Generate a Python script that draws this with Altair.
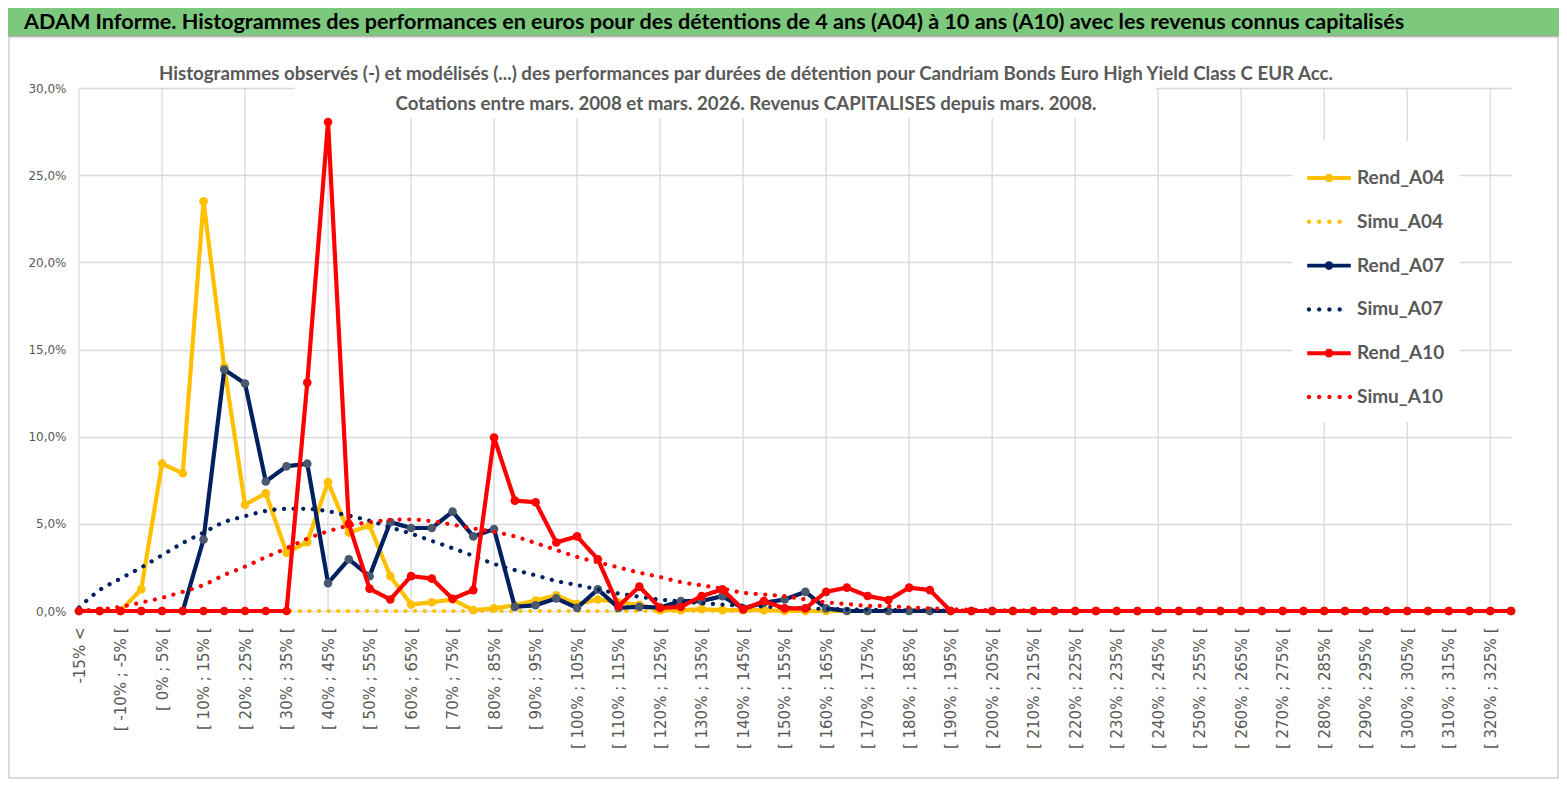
import altair as alt
import pandas as pd

categories = [
    "-15% <", "[ -15% ; -10% [", "[ -10% ; -5% [", "[ -5% ; 0% [", "[ 0% ; 5% [",
    "[ 5% ; 10% [", "[ 10% ; 15% [", "[ 15% ; 20% [", "[ 20% ; 25% [", "[ 25% ; 30% [",
    "[ 30% ; 35% [", "[ 35% ; 40% [", "[ 40% ; 45% [", "[ 45% ; 50% [", "[ 50% ; 55% [",
    "[ 55% ; 60% [", "[ 60% ; 65% [", "[ 65% ; 70% [", "[ 70% ; 75% [", "[ 75% ; 80% [",
    "[ 80% ; 85% [", "[ 85% ; 90% [", "[ 90% ; 95% [", "[ 95% ; 100% [", "[ 100% ; 105% [",
    "[ 105% ; 110% [", "[ 110% ; 115% [", "[ 115% ; 120% [", "[ 120% ; 125% [", "[ 125% ; 130% [",
    "[ 130% ; 135% [", "[ 135% ; 140% [", "[ 140% ; 145% [", "[ 145% ; 150% [", "[ 150% ; 155% [",
    "[ 155% ; 160% [", "[ 160% ; 165% [", "[ 165% ; 170% [", "[ 170% ; 175% [", "[ 175% ; 180% [",
    "[ 180% ; 185% [", "[ 185% ; 190% [", "[ 190% ; 195% [", "[ 195% ; 200% [", "[ 200% ; 205% [",
    "[ 205% ; 210% [", "[ 210% ; 215% [", "[ 215% ; 220% [", "[ 220% ; 225% [", "[ 225% ; 230% [",
    "[ 230% ; 235% [", "[ 235% ; 240% [", "[ 240% ; 245% [", "[ 245% ; 250% [", "[ 250% ; 255% [",
    "[ 255% ; 260% [", "[ 260% ; 265% [", "[ 265% ; 270% [", "[ 270% ; 275% [", "[ 275% ; 280% [",
    "[ 280% ; 285% [", "[ 285% ; 290% [", "[ 290% ; 295% [", "[ 295% ; 300% [", "[ 300% ; 305% [",
    "[ 305% ; 310% [", "[ 310% ; 315% [", "[ 315% ; 320% [", "[ 320% ; 325% [", "[ 325% ; 330% [",
]
grid_categories = categories[::4]

# values in percent
rend_a04 = [0, 0, 0, 1.25, 8.45, 7.9, 23.5, 14.0, 6.1, 6.75,
            3.35, 3.95, 7.4, 4.5, 4.9, 2.0, 0.37, 0.5, 0.66, 0.05,
            0.15, 0.33, 0.6, 0.9, 0.4, 0.66, 0.5, 0.35, 0.05, 0.05,
            0.1, 0.05, 0.05, 0.05, 0, 0, 0, 0, 0, 0,
            0, 0, 0, 0, 0, 0, 0, 0, 0, 0,
            0, 0, 0, 0, 0, 0, 0, 0, 0, 0,
            0, 0, 0, 0, 0, 0, 0, 0, 0, 0]
simu_a04 = [0] * 70
rend_a07 = [0, 0, 0, 0, 0, 0, 4.1, 13.85, 13.05, 7.43,
            8.3, 8.45, 1.6, 2.97, 2.0, 5.1, 4.76, 4.76, 5.7, 4.28,
            4.7, 0.24, 0.33, 0.72, 0.18, 1.24, 0.18, 0.24, 0.2, 0.57,
            0.57, 0.85, 0.15, 0.47, 0.66, 1.1, 0.15, 0, 0, 0,
            0, 0, 0, 0, 0, 0, 0, 0, 0, 0,
            0, 0, 0, 0, 0, 0, 0, 0, 0, 0,
            0, 0, 0, 0, 0, 0, 0, 0, 0, 0]
simu_a07 = [0.2, 1.2, 1.86, 2.5, 3.2, 3.9, 4.5, 5.1, 5.44, 5.74,
            5.86, 5.86, 5.72, 5.47, 5.18, 4.8, 4.44, 4.02, 3.6, 3.16,
            2.7, 2.35, 2.05, 1.72, 1.49, 1.24, 1.0, 0.82, 0.65, 0.55,
            0.45, 0.37, 0.3, 0.25, 0.2, 0.15, 0.12, 0.09, 0.07, 0.05,
            0.04, 0.03, 0.02, 0.015, 0.01, 0.01, 0, 0, 0, 0,
            0, 0, 0, 0, 0, 0, 0, 0, 0, 0,
            0, 0, 0, 0, 0, 0, 0, 0, 0, 0]
rend_a10 = [0, 0, 0, 0, 0, 0, 0, 0, 0, 0,
            0, 13.1, 28.05, 5.0, 1.28, 0.66, 2.0, 1.86, 0.7, 1.2,
            9.95, 6.33, 6.24, 3.93, 4.28, 2.97, 0.28, 1.4, 0.18, 0.24,
            0.85, 1.24, 0.09, 0.57, 0.15, 0.15, 1.1, 1.34, 0.86, 0.63,
            1.34, 1.2, 0, 0, 0, 0, 0, 0, 0, 0,
            0, 0, 0, 0, 0, 0, 0, 0, 0, 0,
            0, 0, 0, 0, 0, 0, 0, 0, 0, 0]
simu_a10 = [0.03, 0.1, 0.24, 0.49, 0.76, 1.1, 1.49, 2.07, 2.55, 3.09,
            3.6, 4.15, 4.57, 4.9, 5.09, 5.22, 5.25, 5.15, 4.95, 4.74,
            4.54, 4.28, 3.9, 3.5, 3.1, 2.8, 2.5, 2.2, 1.95, 1.66,
            1.47, 1.28, 1.05, 0.95, 0.85, 0.66, 0.5, 0.4, 0.3, 0.28,
            0.2, 0.15, 0.1, 0.07, 0.05, 0.04, 0.03, 0.02, 0.01, 0.01,
            0, 0, 0, 0, 0, 0, 0, 0, 0, 0,
            0, 0, 0, 0, 0, 0, 0, 0, 0, 0]

series_names = ["Rend_A04", "Simu_A04", "Rend_A07", "Simu_A07", "Rend_A10", "Simu_A10"]
series_values = [rend_a04, simu_a04, rend_a07, simu_a07, rend_a10, simu_a10]
line_colors = ["#FFC000", "#FFC000", "#002060", "#002060", "#FF0000", "#FF0000"]
marker_colors = ["#FFC000", "#FFC000", "#4A5870", "#002060", "#FF0000", "#FF0000"]
dashes = [[1, 0], [0.1, 9.5], [1, 0], [0.1, 9.5], [1, 0], [0.1, 9.5]]

banner_text = ("ADAM Informe. Histogrammes des performances en euros pour des détentions "
               "de 4 ans (A04) à 10 ans (A10) avec les revenus connus capitalisés")
subtitle_1 = ("Histogrammes observés (-) et modélisés (...) des performances par durées de "
              "détention pour Candriam Bonds Euro High  Yield Class C EUR Acc.")
subtitle_2 = "Cotations entre mars. 2008 et mars. 2026. Revenus CAPITALISES depuis mars. 2008."

TITLE_FONT = "Lato"
AXIS_FONT = "DejaVu Sans"
GREY = "#595959"
GRID = "#D9D9D9"


def circle(cx, r):
    return (f"M{cx + r},0A{r},{r},0,1,1,{cx - r},0"
            f"A{r},{r},0,1,1,{cx + r},0Z")


# legend symbols: solid line with marker, or a row of dots
solid_sym = "M-1,-0.09L1,-0.09L1,0.09L-1,0.09Z" + circle(0, 0.2)
dots4_sym = "".join(circle(c, 0.1) for c in [-0.92, -0.45, 0.02, 0.49])
dots5_sym = "".join(circle(c, 0.1) for c in [-0.92, -0.45, 0.02, 0.49, 0.96])
legend_shapes = [solid_sym, dots4_sym, solid_sym, dots4_sym, solid_sym, dots5_sym]

frames = []
for name, vals in zip(series_names, series_values):
    frames.append(pd.DataFrame({"cat": categories, "series": name,
                                "value": [v / 100 for v in vals]}))
long_df = pd.concat(frames, ignore_index=True)

stroke_scale = alt.Scale(domain=series_names, range=line_colors)
dash_scale = alt.Scale(domain=series_names, range=dashes)
fill_scale = alt.Scale(domain=series_names, range=marker_colors)
color_scale = alt.Scale(domain=series_names, range=line_colors)
shape_scale = alt.Scale(domain=series_names, range=legend_shapes)

legend = alt.Legend(
    title=None, orient="none", legendX=1213, legendY=53,
    symbolSize=1900, symbolStrokeWidth=0, symbolOpacity=1,
    labelFont=TITLE_FONT, labelFontSize=19, labelFontWeight="bold",
    labelColor=GREY, labelOffset=6, rowPadding=11.8, padding=15,
    fillColor="white", zindex=1,
)

x_enc = alt.X(
    "cat:N", sort=categories, title=None,
    scale=alt.Scale(type="point", domain=categories, padding=0),
    axis=alt.Axis(
        values=categories, labelAngle=-90, labelFont=AXIS_FONT, labelFontSize=15,
        labelColor=GREY, labelPadding=16, ticks=False, domain=False,
        labelOverlap=False, labelBound=False, grid=False,
        labelExpr="indexof(domain('x'), datum.value) % 2 == 0 ? datum.label : ''",
    ),
)
y_enc = alt.Y(
    "value:Q", title=None,
    scale=alt.Scale(domain=[0, 0.30], nice=False, zero=True),
    axis=alt.Axis(
        values=[0, 0.05, 0.10, 0.15, 0.20, 0.25, 0.30],
        labelExpr="replace(format(datum.value, '.1%'), '.', ',')",
        labelFont=AXIS_FONT, labelFontSize=12, labelColor=GREY, labelPadding=13,
        ticks=False, domain=False, grid=True, gridColor=GRID, gridWidth=1.3,
    ),
)

one = pd.DataFrame({"t": [""]})

# legend-only layer: tiny points hidden under the first red marker
legend_layer = alt.Chart(long_df[long_df["cat"] == categories[0]]).mark_point(
    filled=True, size=4).encode(
    x=x_enc, y=y_enc,
    color=alt.Color("series:N", scale=color_scale, legend=legend),
    shape=alt.Shape("series:N", scale=shape_scale, legend=legend),
)
vgrid = alt.Chart(pd.DataFrame({"cat": grid_categories})).mark_rule(
    color=GRID, strokeWidth=1.3).encode(
    x=x_enc, y=alt.datum(0), y2=alt.datum(0.30))

frame_box = alt.Chart(one).mark_rect(fillOpacity=0, stroke="#D0D0D0", strokeWidth=1.5).encode(
    x=alt.value(-70), x2=alt.value(1479), y=alt.value(-51), y2=alt.value(690))
banner = alt.Chart(one).mark_rect(color="#7CC87C", stroke="#A0A0A0", strokeWidth=1).encode(
    x=alt.value(-72), x2=alt.value(1481), y=alt.value(-81), y2=alt.value(-52))
banner_txt = alt.Chart(pd.DataFrame({"t": [banner_text]})).mark_text(
    align="left", baseline="middle", font=TITLE_FONT, fontSize=21.6,
    fontWeight="bold", color="black").encode(
    text="t:N", x=alt.value(-55), y=alt.value(-65.5))
title_box = alt.Chart(one).mark_rect(color="white").encode(
    x=alt.value(216), x2=alt.value(1077), y=alt.value(-32), y2=alt.value(30))
sub1 = alt.Chart(pd.DataFrame({"t": [subtitle_1]})).mark_text(
    align="center", baseline="alphabetic", font=TITLE_FONT, fontSize=18.7,
    fontWeight="bold", color=GREY).encode(text="t:N", x=alt.value(667), y=alt.value(-8))
sub2 = alt.Chart(pd.DataFrame({"t": [subtitle_2]})).mark_text(
    align="center", baseline="alphabetic", font=TITLE_FONT, fontSize=18.7,
    fontWeight="bold", color=GREY).encode(text="t:N", x=alt.value(667), y=alt.value(22))

layers = [legend_layer, vgrid, title_box, frame_box]
for name, df in zip(series_names, frames):
    simu = name.startswith("Simu")
    line = alt.Chart(df).mark_line(
        strokeWidth=4.2, strokeCap="round", strokeJoin="round",
        interpolate="monotone" if simu else "linear").encode(
        x=x_enc, y=y_enc,
        stroke=alt.Stroke("series:N", scale=stroke_scale, legend=None),
        strokeDash=alt.StrokeDash("series:N", scale=dash_scale, legend=None),
    )
    layers.append(line)
    if not simu:
        pts = alt.Chart(df).mark_point(filled=True, size=75, opacity=1).encode(
            x=x_enc, y=y_enc,
            fill=alt.Fill("series:N", scale=fill_scale, legend=None),
        )
        layers.append(pts)

layers += [banner, banner_txt, sub1, sub2]

chart = alt.layer(*layers).properties(
    width=1432, height=523,
    autosize=alt.AutoSizeParams(type="none"),
    padding={"left": 71, "top": 80, "right": 48, "bottom": 170},
    background="white",
).configure_view(stroke=None)

chart.save("out.html", embed_options={"renderer": "svg", "actions": False})
